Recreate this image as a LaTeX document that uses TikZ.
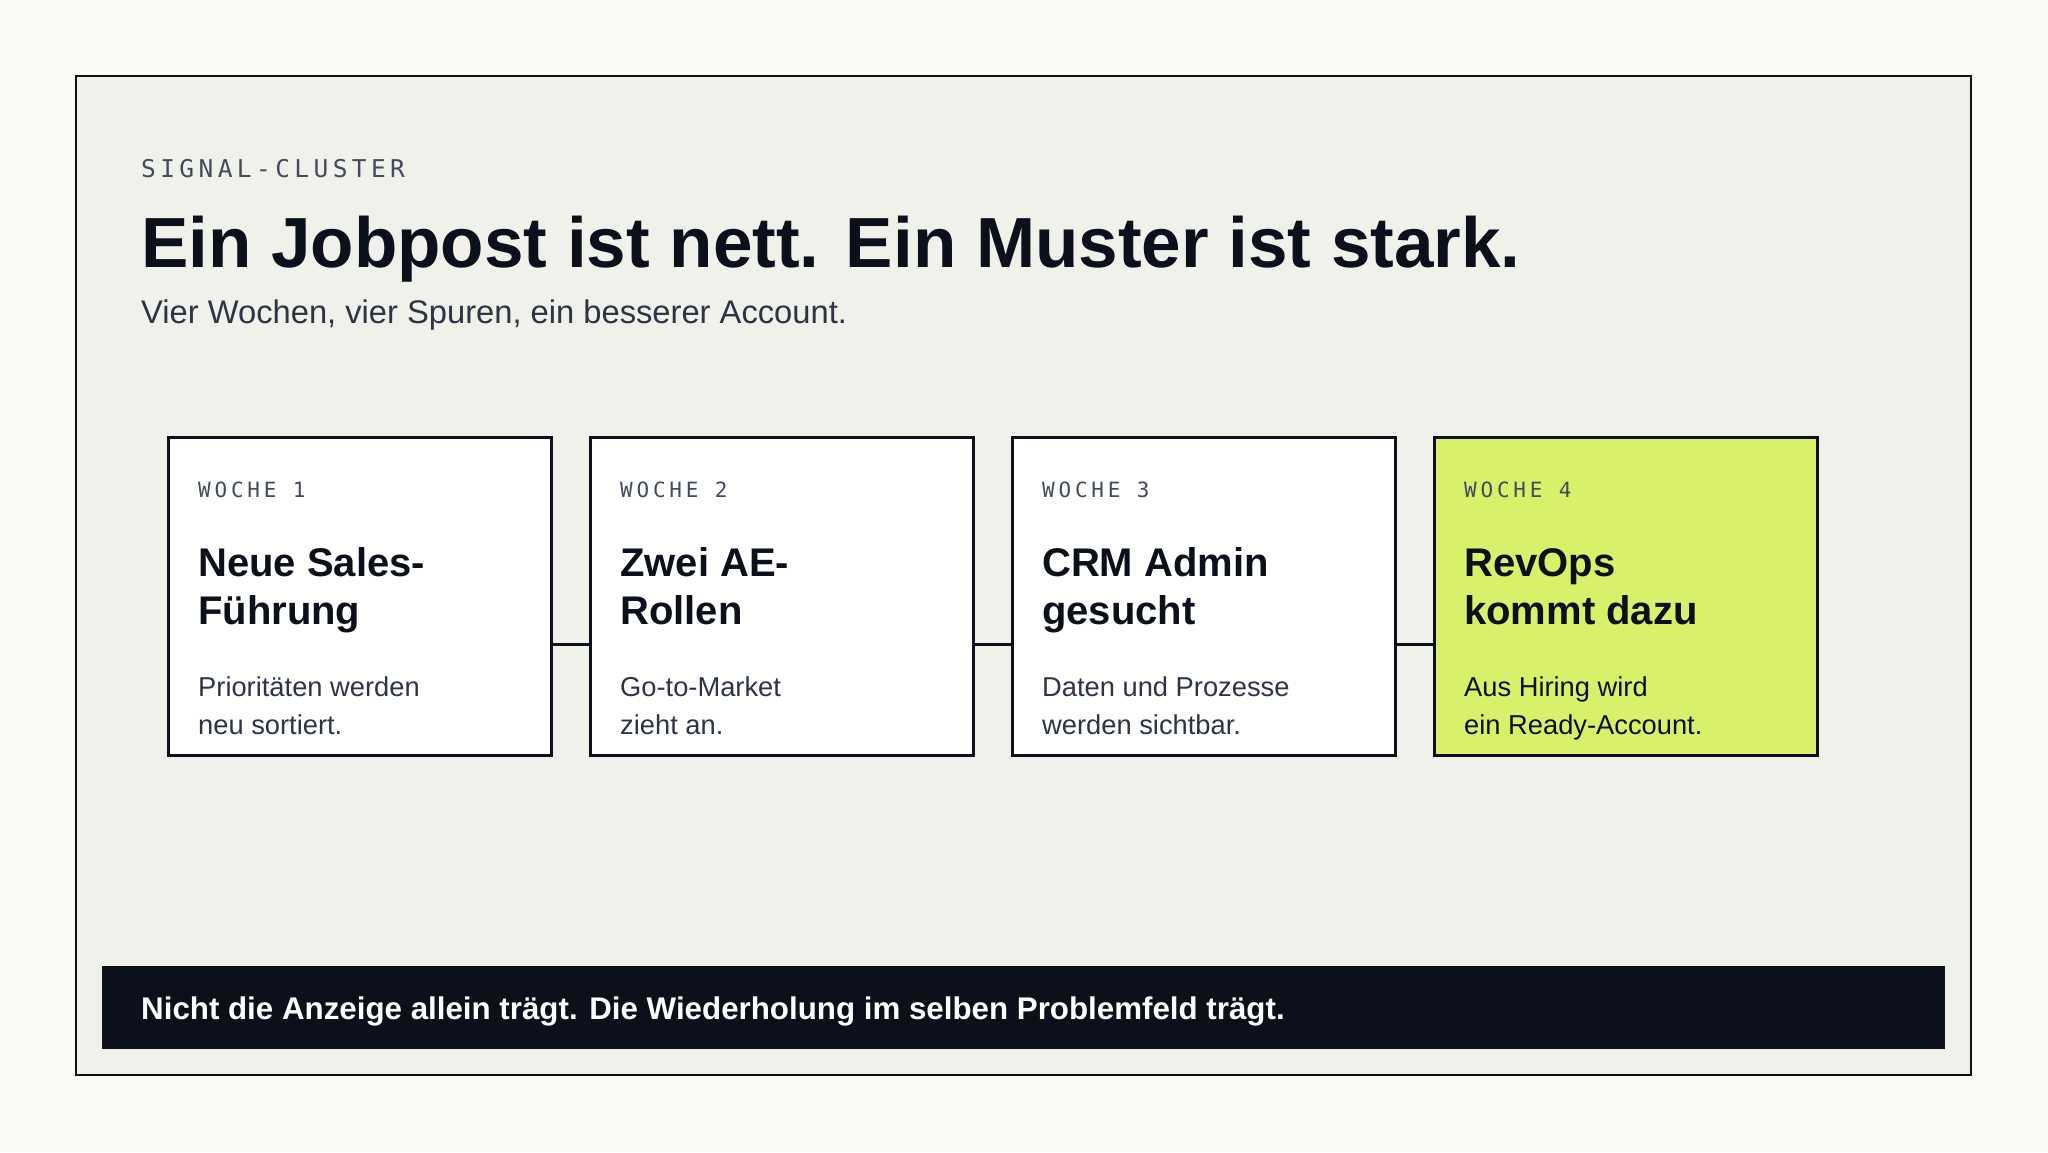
\documentclass[tikz,border=0pt]{standalone}
\usepackage{fontspec}
\setmainfont{Liberation Sans}
\newfontfamily\labelmono{DejaVu Sans Mono}[LetterSpace=18]
\usetikzlibrary{positioning}
\definecolor{pagebg}{HTML}{F9FAF5}
\definecolor{panelbg}{HTML}{F1F1EC}
\definecolor{inkdark}{HTML}{0B101A}
\definecolor{slategray}{HTML}{434B5B}
\definecolor{subtext}{HTML}{2D3444}
\definecolor{limegreen}{HTML}{D9F06A}

\begin{document}
\begin{tikzpicture}[x=1pt, y=-1pt,
    card/.style={rectangle, draw=inkdark, line width=2.5pt, fill=white, minimum width=383, minimum height=318, inner sep=0},
    weeklabel/.style={anchor=base west, inner sep=0, font=\labelmono\fontsize{21}{21}\selectfont, text=slategray},
    cardtitle/.style={anchor=base west, inner sep=0, align=left, font=\bfseries\fontsize{40}{48}\selectfont, text=inkdark},
    carddesc/.style={anchor=base west, inner sep=0, align=left, font=\fontsize{27.3}{38}\selectfont, text=subtext},
    link/.style={draw=inkdark, line width=3pt}]

    % page and panel
    \fill[pagebg] (0,0) rectangle (2048,1152);
    \useasboundingbox (0,0) rectangle (2048,1152);
    \draw[fill=panelbg, draw=inkdark, line width=2pt] (76,76) rectangle (1971,1075);

    % header
    \node[anchor=base west, inner sep=0, text=slategray, font=\labelmono\fontsize{24.5}{24.5}\selectfont] (eyebrow) at (141,177) {SIGNAL-CLUSTER};
    \node[anchor=base west, inner sep=0, text=inkdark, font=\bfseries\fontsize{71}{71}\selectfont] (headline) at (141,267) {Ein Jobpost ist nett. Ein Muster ist stark.};
    \node[anchor=base west, inner sep=0, text=subtext, font=\fontsize{32.7}{32.7}\selectfont] (subline) at (141,323) {Vier Wochen, vier Spuren, ein besserer Account.};

    % week cards
    \node[card, anchor=north west] (w1) at (167,436) {};
    \node[card, right=36.5pt of w1] (w2) {};
    \node[card, right=36.5pt of w2] (w3) {};
    \node[card, fill=limegreen, right=36.5pt of w3] (w4) {};

    \draw[link] ([yshift=112pt]w1.south east) -- ([yshift=112pt]w2.south west);
    \draw[link] ([yshift=112pt]w2.south east) -- ([yshift=112pt]w3.south west);
    \draw[link] ([yshift=112pt]w3.south east) -- ([yshift=112pt]w4.south west);

    \node[weeklabel] (w1label) at ([shift={(31pt,-61pt)}]w1.north west) {WOCHE 1};
    \node[cardtitle] (w1title) at ([shift={(31pt,-188pt)}]w1.north west) {Neue Sales-\\Führung};
    \node[carddesc] (w1desc) at ([shift={(31pt,-298pt)}]w1.north west) {Prioritäten werden\\neu sortiert.};

    \node[weeklabel] (w2label) at ([shift={(31pt,-61pt)}]w2.north west) {WOCHE 2};
    \node[cardtitle] (w2title) at ([shift={(31pt,-188pt)}]w2.north west) {Zwei AE-\\Rollen};
    \node[carddesc] (w2desc) at ([shift={(31pt,-298pt)}]w2.north west) {Go-to-Market\\zieht an.};

    \node[weeklabel] (w3label) at ([shift={(31pt,-61pt)}]w3.north west) {WOCHE 3};
    \node[cardtitle] (w3title) at ([shift={(31pt,-188pt)}]w3.north west) {CRM Admin\\gesucht};
    \node[carddesc] (w3desc) at ([shift={(31pt,-298pt)}]w3.north west) {Daten und Prozesse\\werden sichtbar.};

    \node[weeklabel] (w4label) at ([shift={(31pt,-61pt)}]w4.north west) {WOCHE 4};
    \node[cardtitle] (w4title) at ([shift={(31pt,-188pt)}]w4.north west) {RevOps\\kommt dazu};
    \node[carddesc, text=inkdark] (w4desc) at ([shift={(31pt,-298pt)}]w4.north west) {Aus Hiring wird\\ein Ready-Account.};

    % takeaway bar
    \node[fill=inkdark, minimum width=1843, minimum height=83, inner sep=0, anchor=north west] (takeaway) at (102,966) {};
    \node[anchor=base west, inner sep=0, text=white, font=\bfseries\fontsize{31.3}{31.3}\selectfont] (takeawaytext) at (141,1019) {Nicht die Anzeige allein trägt. Die Wiederholung im selben Problemfeld trägt.};
\end{tikzpicture}
\end{document}
